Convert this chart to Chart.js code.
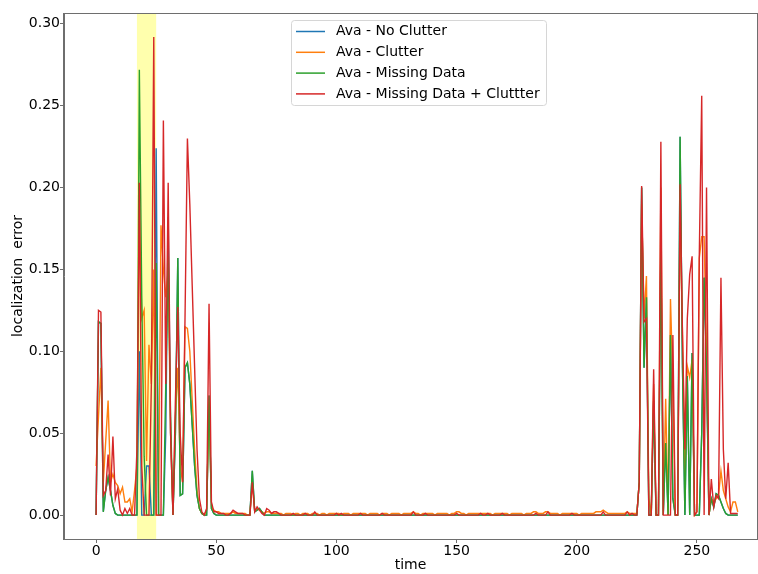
<!DOCTYPE html>
<html>
<head>
<meta charset="utf-8">
<script src="https://cdn.jsdelivr.net/npm/chart.js@4.4.0/dist/chart.umd.min.js"></script>
<style>
  html, body { margin: 0; padding: 0; background: #fff; }
  #wrap { width: 758px; height: 574px; }
</style>
</head>
<body>
<div id="wrap"><canvas id="errChart" width="758" height="574"></canvas></div>
<script>
// series values, one per time step (0..267)
var NoClutter = [
  0, 0.118, 0.117, 0.002, 0.015, 0.023, 0.015, 0.006, 0.001, 0,
  0, 0, 0, 0, 0, 0, 0, 0, 0.1, 0,
  0, 0.03, 0.03, 0, 0, 0.224, 0, 0, 0, 0.05,
  0.182, 0.05, 0, 0.05, 0.157, 0.012, 0.013, 0.09, 0.093, 0.08,
  0.055, 0.03, 0.012, 0.004, 0.001, 0, 0, 0.073, 0.004, 0.001,
  0, 0, 0, 0, 0, 0, 0, 0, 0, 0,
  0, 0, 0, 0, 0, 0.027, 0.002, 0.003, 0.004, 0.002,
  0, 0, 0, 0, 0, 0, 0, 0, 0, 0,
  0, 0, 0, 0, 0, 0, 0, 0, 0, 0,
  0, 0, 0, 0, 0, 0, 0, 0, 0, 0,
  0, 0, 0, 0, 0, 0, 0, 0, 0, 0,
  0, 0, 0, 0, 0, 0, 0, 0, 0, 0,
  0, 0, 0, 0, 0, 0, 0, 0, 0, 0,
  0, 0, 0, 0, 0, 0, 0, 0, 0, 0,
  0, 0, 0, 0, 0, 0, 0, 0, 0, 0,
  0, 0, 0, 0, 0, 0, 0, 0, 0, 0,
  0, 0, 0, 0, 0, 0, 0, 0, 0, 0,
  0, 0, 0, 0, 0, 0, 0, 0, 0, 0,
  0, 0, 0, 0, 0, 0, 0, 0, 0, 0,
  0, 0, 0, 0, 0, 0, 0, 0, 0, 0,
  0, 0, 0, 0, 0, 0, 0, 0, 0, 0,
  0, 0, 0, 0, 0, 0, 0, 0, 0, 0,
  0, 0, 0, 0, 0, 0, 0.02, 0.2, 0.09, 0.133,
  0, 0, 0.07, 0, 0, 0.165, 0, 0.044, 0, 0.11,
  0.01, 0, 0, 0.231, 0.09, 0, 0.085, 0, 0.099, 0,
  0, 0, 0.05, 0.145, 0.09, 0, 0.01, 0.005, 0.013, 0.012,
  0.008, 0.004, 0.001, 0, 0, 0, 0, 0
]
var Clutter = [
  0.03, 0.06, 0.09, 0.02, 0.045, 0.07, 0.02, 0.025, 0.02, 0.018,
  0.013, 0.017, 0.008, 0.008, 0.01, 0.002, 0.015, 0.03, 0.19, 0.12,
  0.125, 0.033, 0.104, 0.08, 0.15, 0, 0, 0.177, 0.15, 0.133,
  0.15, 0.05, 0, 0.06, 0.09, 0.03, 0.02, 0.115, 0.114, 0.1,
  0.07, 0.04, 0.015, 0.004, 0.001, 0, 0.003, 0.07, 0.005, 0.003,
  0.002, 0.002, 0.001, 0.001, 0.001, 0.001, 0.001, 0.002, 0.001, 0.001,
  0.001, 0.001, 0.001, 0, 0, 0.02, 0.003, 0.004, 0.003, 0.002,
  0.001, 0.002, 0.002, 0.001, 0.001, 0.001, 0.001, 0.001, 0, 0.001,
  0.001, 0.001, 0, 0.001, 0.001, 0, 0.001, 0.001, 0.001, 0,
  0.001, 0.001, 0.001, 0, 0.001, 0.001, 0, 0.001, 0.001, 0.001,
  0.001, 0.001, 0, 0.001, 0.001, 0.001, 0, 0.001, 0.001, 0.001,
  0.001, 0.001, 0.001, 0, 0.001, 0.001, 0.001, 0.001, 0, 0.001,
  0.001, 0.001, 0, 0.001, 0.001, 0.001, 0.001, 0, 0.001, 0.001,
  0.001, 0.001, 0.002, 0.001, 0.001, 0, 0.001, 0.001, 0.001, 0.001,
  0.001, 0, 0.001, 0.001, 0.001, 0.001, 0.001, 0, 0.001, 0.001,
  0.002, 0.002, 0.001, 0.001, 0, 0.001, 0.001, 0.001, 0.001, 0.001,
  0.001, 0.001, 0.001, 0.001, 0.001, 0, 0.001, 0.001, 0.001, 0.001,
  0.001, 0.001, 0, 0.001, 0.001, 0.001, 0.001, 0.001, 0, 0.001,
  0.001, 0.001, 0.002, 0.002, 0.001, 0.001, 0.001, 0.002, 0.002, 0.001,
  0.001, 0.001, 0.001, 0, 0.001, 0.001, 0.001, 0.001, 0.001, 0.001,
  0.001, 0, 0.001, 0.001, 0.001, 0.001, 0.001, 0.001, 0.002, 0.002,
  0.002, 0.003, 0.002, 0.001, 0.001, 0.001, 0.001, 0.001, 0.001, 0.001,
  0.001, 0.002, 0.001, 0.001, 0.001, 0.001, 0.02, 0.19, 0.12, 0.146,
  0.01, 0, 0.08, 0, 0, 0.2, 0, 0.071, 0, 0.132,
  0.08, 0, 0, 0.19, 0.11, 0.02, 0.091, 0.084, 0.095, 0,
  0.002, 0.157, 0.17, 0.17, 0.1, 0, 0.01, 0.008, 0.01, 0.012,
  0.027, 0.015, 0.01, 0.005, 0.002, 0.008, 0.008, 0.002
]
var MissingData = [
  0, 0.118, 0.117, 0.002, 0.015, 0.023, 0.015, 0.006, 0.001, 0,
  0, 0, 0, 0, 0, 0, 0, 0, 0.272, 0.134,
  0.036, 0, 0, 0, 0, 0.154, 0, 0, 0, 0.08,
  0.158, 0.06, 0, 0.05, 0.157, 0.012, 0.013, 0.09, 0.093, 0.08,
  0.055, 0.03, 0.012, 0.004, 0.001, 0, 0, 0.073, 0.004, 0.001,
  0, 0, 0, 0, 0, 0, 0, 0, 0, 0,
  0, 0, 0, 0, 0, 0.027, 0.002, 0.003, 0.004, 0.002,
  0, 0, 0, 0, 0, 0, 0, 0, 0, 0,
  0, 0, 0, 0, 0, 0, 0, 0, 0, 0,
  0, 0, 0, 0, 0, 0, 0, 0, 0, 0,
  0, 0, 0, 0, 0, 0, 0, 0, 0, 0,
  0, 0, 0, 0, 0, 0, 0, 0, 0, 0,
  0, 0, 0, 0, 0, 0, 0, 0, 0, 0,
  0, 0, 0, 0, 0, 0, 0, 0, 0, 0,
  0, 0, 0, 0, 0, 0, 0, 0, 0, 0,
  0, 0, 0, 0, 0, 0, 0, 0, 0, 0,
  0, 0, 0, 0, 0, 0, 0, 0, 0, 0,
  0, 0, 0, 0, 0, 0, 0, 0, 0, 0,
  0, 0, 0, 0, 0, 0, 0, 0, 0, 0,
  0, 0, 0, 0, 0, 0, 0, 0, 0, 0,
  0, 0, 0, 0, 0, 0, 0, 0, 0, 0,
  0, 0, 0, 0, 0, 0, 0, 0, 0, 0,
  0, 0, 0, 0, 0, 0, 0.02, 0.2, 0.09, 0.133,
  0, 0, 0.07, 0, 0, 0.165, 0, 0.044, 0, 0.11,
  0.01, 0, 0, 0.231, 0.09, 0, 0.085, 0, 0.099, 0,
  0, 0, 0.05, 0.145, 0.09, 0, 0.01, 0.005, 0.013, 0.012,
  0.008, 0.004, 0.001, 0, 0, 0, 0, 0
]
var MissingClutter = [
  0, 0.125, 0.124, 0.012, 0.015, 0.037, 0.012, 0.048, 0.01, 0.016,
  0.003, 0, 0.004, 0.001, 0.004, 0, 0, 0.04, 0.203, 0.03,
  0, 0, 0, 0.08, 0.292, 0, 0, 0, 0.241, 0.08,
  0.203, 0.05, 0, 0.07, 0.127, 0.05, 0.02, 0.12, 0.23, 0.19,
  0.14, 0.09, 0.04, 0.01, 0.002, 0, 0.004, 0.129, 0.008, 0.002,
  0.002, 0.001, 0.001, 0.001, 0, 0, 0.001, 0.003, 0.002, 0.001,
  0.001, 0.001, 0, 0, 0, 0.02, 0.002, 0.005, 0.003, 0.001,
  0, 0.004, 0.003, 0.001, 0.002, 0.002, 0.001, 0, 0, 0,
  0, 0, 0.001, 0, 0, 0, 0, 0.001, 0, 0,
  0, 0.002, 0, 0, 0, 0, 0, 0, 0, 0,
  0.001, 0, 0.001, 0, 0, 0, 0, 0, 0, 0,
  0.001, 0, 0, 0, 0, 0, 0, 0, 0, 0.001,
  0, 0, 0, 0, 0, 0, 0, 0, 0, 0,
  0, 0, 0.002, 0, 0, 0, 0, 0.001, 0, 0,
  0, 0, 0, 0, 0, 0, 0, 0, 0, 0,
  0.001, 0, 0, 0, 0, 0, 0, 0, 0, 0,
  0.001, 0, 0, 0.001, 0, 0, 0, 0, 0, 0.001,
  0, 0, 0, 0, 0, 0, 0, 0, 0, 0,
  0, 0, 0, 0.001, 0, 0, 0, 0, 0.002, 0,
  0, 0, 0, 0, 0, 0, 0, 0, 0.001, 0,
  0, 0, 0, 0, 0, 0, 0, 0, 0, 0,
  0, 0.002, 0, 0, 0, 0, 0, 0, 0, 0,
  0, 0.002, 0, 0.001, 0, 0, 0.02, 0.201, 0.118, 0.12,
  0, 0, 0.089, 0, 0, 0.228, 0, 0, 0, 0,
  0.11, 0, 0, 0.202, 0.11, 0.04, 0.12, 0.147, 0.158, 0,
  0.002, 0.16, 0.256, 0, 0.2, 0, 0.022, 0.005, 0.012, 0.01,
  0.145, 0.04, 0.01, 0.032, 0.001, 0.001, 0.001, 0.001
]

var SeriesNames = ['Ava - No Clutter', 'Ava - Clutter', 'Ava - Missing Data', 'Ava - Missing Data + Cluttter']
var SeriesColors = ['#1f77b4', '#ff7f0e', '#2ca02c', '#d62728']
var XTicks = [0, 50, 100, 150, 200, 250]
var YTicks = [0, 0.05, 0.10, 0.15, 0.20, 0.25, 0.30]
var HighlightSpan = [17, 25]

// time steps 0..267
var TimeList = []
for (let i = 0; i < NoClutter.length; i++) {
    TimeList.push(i)
}

const FONT = "'DejaVu Sans', sans-serif"
const AXIS_COLOR = '#6e6e6e'

// 黄色区域 + 边框 + 图例
const extrasPlugin = {
    id: 'extras',
    beforeDatasetsDraw(chart) {
        const {ctx, chartArea, scales} = chart
        const x1 = scales.x.getPixelForValue(HighlightSpan[0])
        const x2 = scales.x.getPixelForValue(HighlightSpan[1])
        ctx.save()
        ctx.fillStyle = 'rgba(255,255,0,0.32)'
        ctx.fillRect(x1, chartArea.top, x2 - x1, chartArea.bottom - chartArea.top)
        ctx.restore()
    },
    afterDraw(chart) {
        const {ctx, chartArea} = chart
        ctx.save()
        ctx.strokeStyle = AXIS_COLOR
        ctx.lineWidth = 1
        ctx.strokeRect(chartArea.left - 0.5, chartArea.top + 0.5, chartArea.right - chartArea.left + 1, chartArea.bottom - chartArea.top)

        // legend box
        const bx = 291.5, by = 20.5, bw = 255, bh = 85
        ctx.beginPath()
        ctx.roundRect(bx, by, bw, bh, 3)
        ctx.fillStyle = 'rgba(255,255,255,0.8)'
        ctx.fill()
        ctx.strokeStyle = '#d6d6d6'
        ctx.stroke()
        ctx.font = '14px ' + FONT
        ctx.textBaseline = 'middle'
        ctx.textAlign = 'left'
        for (let i = 0; i < SeriesNames.length; i++) {
            const y = 31.5 + i * 20.8
            ctx.beginPath()
            ctx.moveTo(296, y)
            ctx.lineTo(325, y)
            ctx.strokeStyle = SeriesColors[i]
            ctx.lineWidth = 1.5
            ctx.stroke()
            ctx.fillStyle = '#000'
            ctx.fillText(SeriesNames[i], 336, y)
        }
        ctx.restore()
    }
}

function LineChart() {
    const allData = [NoClutter, Clutter, MissingData, MissingClutter]
    const allDataSet = allData.map((d, i) => ({
        label: SeriesNames[i],
        data: d,
        borderColor: SeriesColors[i],
        backgroundColor: SeriesColors[i],
        borderWidth: 1.4,
        pointRadius: 0,
        fill: false,
        tension: 0,
        order: allData.length - 1 - i
    }))

    var ctxLine = document.getElementById('errChart').getContext('2d')
    var lineChart = new Chart(ctxLine, {
        type: 'line',
        data: {
            labels: TimeList,
            datasets: allDataSet
        },
        options: {
            responsive: false,
            animation: false,
            layout: { padding: { top: 13, right: 1, left: 0, bottom: 0 } },
            plugins: {
                legend: { display: false },
                tooltip: { enabled: false }
            },
            scales: {
                x: {
                    type: 'linear',
                    min: -13.35,
                    max: 275,
                    afterFit(scale) { scale.height = 35 },
                    afterBuildTicks(scale) { scale.ticks = XTicks.map(v => ({ value: v })) },
                    grid: { drawOnChartArea: false, drawTicks: true, tickLength: 4, color: AXIS_COLOR },
                    border: { display: true, color: AXIS_COLOR, width: 1 },
                    ticks: {
                        color: '#000',
                        padding: 0,
                        maxRotation: 0,
                        font: { family: FONT, size: 14 },
                        callback: v => String(v)
                    },
                    title: {
                        display: true,
                        text: 'time',
                        color: '#000',
                        padding: { top: 0, bottom: 0 },
                        font: { family: FONT, size: 14 }
                    }
                },
                y: {
                    type: 'linear',
                    min: -0.0146,
                    max: 0.3066,
                    afterFit(scale) { scale.width = 64 },
                    afterBuildTicks(scale) { scale.ticks = YTicks.map(v => ({ value: v })) },
                    grid: { drawOnChartArea: false, drawTicks: true, tickLength: 4, color: AXIS_COLOR },
                    border: { display: true, color: AXIS_COLOR, width: 1 },
                    ticks: {
                        color: '#000',
                        padding: 0,
                        font: { family: FONT, size: 14 },
                        callback: v => v.toFixed(2)
                    },
                    title: {
                        display: true,
                        text: 'localization  error',
                        color: '#000',
                        padding: { top: 10, bottom: 0 },
                        font: { family: FONT, size: 14 }
                    }
                }
            }
        },
        plugins: [extrasPlugin]
    })
}

document.addEventListener('DOMContentLoaded', LineChart)
</script>
</body>
</html>
